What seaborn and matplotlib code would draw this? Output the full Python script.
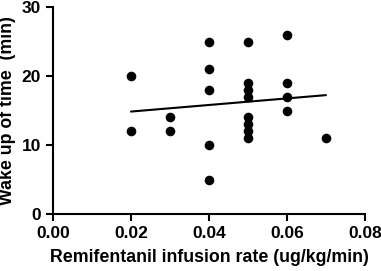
import numpy as np
import pandas as pd
import matplotlib
matplotlib.use("Agg")
import matplotlib.pyplot as plt
import seaborn as sns

# infusion rate (ug/kg/min) and wake up time (min)
rate = [0.02, 0.02,
        0.03, 0.03,
        0.04, 0.04, 0.04, 0.04, 0.04,
        0.05, 0.05, 0.05, 0.05, 0.05, 0.05, 0.05, 0.05,
        0.06, 0.06, 0.06, 0.06,
        0.07]
wake = [20, 12,
        14, 12,
        25, 21, 18, 10, 5,
        25, 19, 18, 17, 14, 13, 12, 11,
        26, 19, 17, 15,
        11]
x_ticks = [0.00, 0.02, 0.04, 0.06, 0.08]
y_ticks = [0, 10, 20, 30]

df = pd.DataFrame({"rate": rate, "wake": wake})

sns.set_style("ticks")
plt.rcParams['font.family'] = ['Liberation Sans', 'DejaVu Sans']
plt.rcParams['font.weight'] = 'bold'
plt.rcParams['text.color'] = 'black'
plt.rcParams['axes.labelcolor'] = 'black'

fig = plt.figure(figsize=(3.81, 2.71), dpi=100)
ax = fig.add_axes([0.139, 0.21, 0.819, 0.764])

sns.regplot(data=df, x="rate", y="wake", ax=ax, ci=None, truncate=True,
            scatter_kws={"s": 48, "color": "black", "linewidths": 0, "alpha": 1},
            line_kws={"color": "black", "linewidth": 1.5})

ax.set_xlim(0, 0.08)
ax.set_ylim(0, 30)
ax.set_xticks(x_ticks)
ax.set_xticklabels([f"{t:.2f}" for t in x_ticks])
ax.set_yticks(y_ticks)
ax.set_xlabel("Remifentanil infusion rate (ug/kg/min)", fontsize=12.8, fontweight='bold', labelpad=6)
ax.set_ylabel("Wake up of time  (min)", fontsize=12.8, fontweight='bold', labelpad=4)
ax.tick_params(axis='both', labelsize=12.5, width=1.5, length=5, color='black', labelcolor='black')
for lab in ax.get_xticklabels() + ax.get_yticklabels():
    lab.set_fontweight('bold')
sns.despine(ax=ax)
for s in ["left", "bottom"]:
    ax.spines[s].set_linewidth(1.5)
    ax.spines[s].set_color("black")

fig.savefig("out.png", dpi=100)
